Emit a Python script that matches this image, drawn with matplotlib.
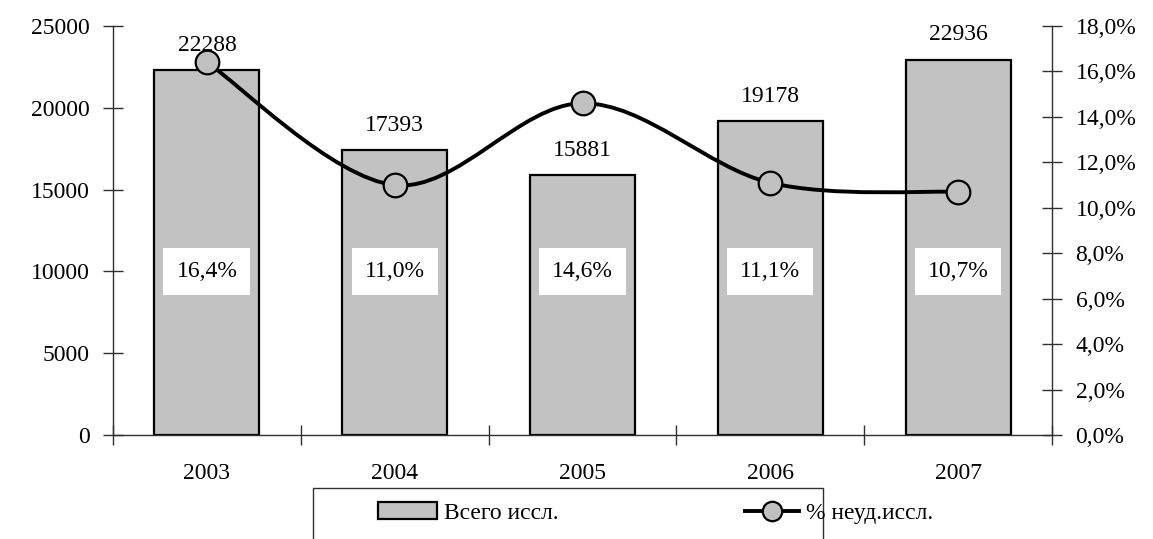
import matplotlib.pyplot as plt
from matplotlib.path import Path
from matplotlib.patches import PathPatch, Rectangle, Patch
from matplotlib.lines import Line2D
from matplotlib.ticker import FuncFormatter

# dati
anni = ["2003", "2004", "2005", "2006", "2007"]
totale = [22288, 17393, 15881, 19178, 22936]
perc_neud = [16.4, 11.0, 14.6, 11.1, 10.7]

plt.rcParams['font.family'] = ['Liberation Serif', 'DejaVu Serif']
fs = 17
grigio = '#c2c2c2'
asse = '#303030'

fig = plt.figure(figsize=(11.53, 5.39), dpi=100)
ax = fig.add_axes([113 / 1153, 1 - 435 / 539, (1052 - 113) / 1153, (435 - 26) / 539])
xs = list(range(len(anni)))

# barre
ax.bar(xs, totale, width=0.56, color=grigio, edgecolor='black', linewidth=1.6, zorder=2)
ax.set_xlim(-0.5, len(anni) - 0.5)
ax.set_ylim(0, 25000)
ax.set_yticks(range(0, 25001, 5000))

for s in ['top', 'right']:
    ax.spines[s].set_visible(False)
for s in ['left', 'bottom']:
    ax.spines[s].set_color(asse)
    ax.spines[s].set_linewidth(1)

ax.tick_params(axis='y', direction='inout', length=14, width=1, color=asse, labelsize=fs, pad=10)
ax.set_xticks(xs)
ax.set_xticklabels(anni)
ax.set_xticks([i - 0.5 for i in range(len(anni) + 1)], minor=True)
ax.tick_params(axis='x', which='major', length=0, labelsize=fs, pad=20)
ax.tick_params(axis='x', which='minor', direction='inout', length=14, width=1, color=asse)

# etichette sopra le barre
for x, v in zip(xs, totale):
    ax.annotate(str(v), (x, v), xytext=(0, 18), textcoords='offset points',
                ha='center', va='center', fontsize=fs)

# asse destro in percentuale
ax2 = ax.twinx()
ax2.set_ylim(0, 18)
ax2.set_yticks(range(0, 19, 2))
ax2.yaxis.set_major_formatter(FuncFormatter(lambda v, p: f"{v:.1f}%".replace('.', ',')))
for s in ['top', 'left', 'bottom']:
    ax2.spines[s].set_visible(False)
ax2.spines['right'].set_color(asse)
ax2.spines['right'].set_linewidth(1)
ax2.tick_params(axis='y', direction='inout', length=14, width=1, color=asse, labelsize=fs, pad=10)

# linea smussata (bezier tipo Catmull-Rom)
pts = list(zip(xs, perc_neud))
verts = [pts[0]]
codes = [Path.MOVETO]
for i in range(len(pts) - 1):
    p0 = pts[i - 1] if i > 0 else pts[i]
    p1 = pts[i]
    p2 = pts[i + 1]
    p3 = pts[i + 2] if i + 2 < len(pts) else pts[i + 1]
    c1 = (p1[0] + (p2[0] - p0[0]) / 6, p1[1] + (p2[1] - p0[1]) / 6)
    c2 = (p2[0] - (p3[0] - p1[0]) / 6, p2[1] - (p3[1] - p1[1]) / 6)
    verts += [c1, c2, p2]
    codes += [Path.CURVE4] * 3
ax2.add_patch(PathPatch(Path(verts, codes), fill=False, edgecolor='black', linewidth=2.8, zorder=3))
ax2.plot(xs, perc_neud, linestyle='none', marker='o', markersize=17, markerfacecolor='#c0c0c0',
         markeredgecolor='black', markeredgewidth=1.6, zorder=4)

# riquadri con le percentuali
for x, v in zip(xs, perc_neud):
    ax.text(x, 10000, f"{v:.1f}%".replace('.', ','), ha='center', va='center', fontsize=fs, zorder=5,
            bbox=dict(boxstyle='square,pad=0.55', facecolor='white', edgecolor='none'))

# legenda
fig.patches.append(Rectangle((313 / 1153, -0.05), (823 - 313) / 1153, 1 - 488 / 539 + 0.05,
                             transform=fig.transFigure, fill=False, edgecolor=asse, linewidth=1))
h1 = Patch(facecolor=grigio, edgecolor='black', linewidth=1.6)
h2 = Line2D([], [], color='black', linewidth=2.8, marker='o', markersize=14,
            markerfacecolor='#c0c0c0', markeredgecolor='black', markeredgewidth=1.6)
leg1 = fig.legend([h1], ["Всего иссл."], loc='center left', bbox_to_anchor=(378 / 1153, 1 - 513 / 539),
                  frameon=False, fontsize=fs, borderpad=0, borderaxespad=0, handlelength=2.5,
                  handleheight=0.7, handletextpad=0.3)
leg2 = fig.legend([h2], ["% неуд.иссл."], loc='center left', bbox_to_anchor=(745 / 1153, 1 - 513 / 539),
                  frameon=False, fontsize=fs, borderpad=0, borderaxespad=0, handlelength=2.3,
                  handletextpad=0.3)

fig.savefig('out.png', dpi=100)
